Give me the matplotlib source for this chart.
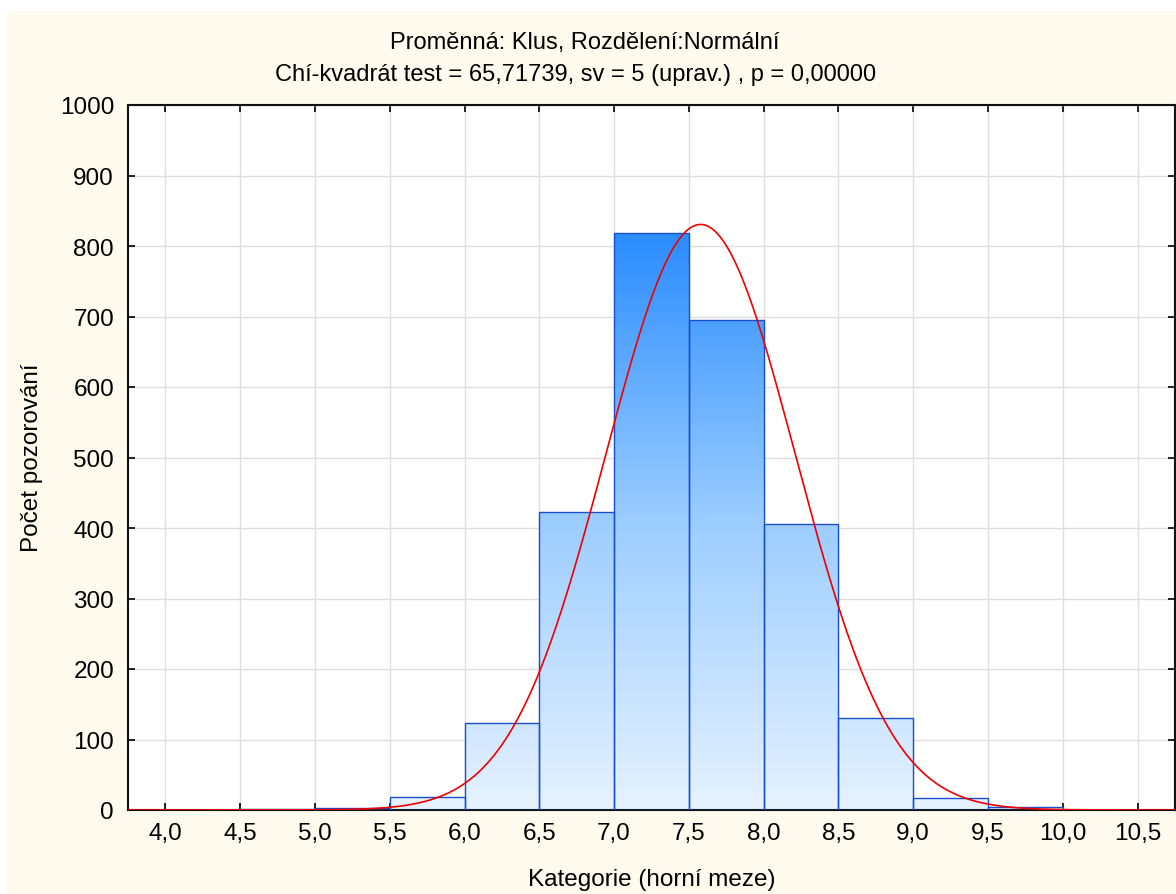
import numpy as np
import matplotlib
matplotlib.use("Agg")
import matplotlib.pyplot as plt
from matplotlib.patches import Rectangle
from matplotlib.colors import LinearSegmentedColormap

# ---- data ----
bin_lefts = [4.0, 4.5, 5.0, 5.5, 6.0, 6.5, 7.0, 7.5, 8.0, 8.5, 9.0, 9.5, 10.0]
counts    = [0,   1,   3,   18,  123, 423, 819, 695, 406, 131, 17,  4,   0]
bin_width = 0.5
fit_mean = 7.578
fit_sd = 0.634
n_total = sum(counts)
xtick_vals = [4.0, 4.5, 5.0, 5.5, 6.0, 6.5, 7.0, 7.5, 8.0, 8.5, 9.0, 9.5, 10.0, 10.5]
xtick_labels = ["4,0", "4,5", "5,0", "5,5", "6,0", "6,5", "7,0", "7,5", "8,0", "8,5", "9,0", "9,5", "10,0", "10,5"]
ytick_vals = [0, 100, 200, 300, 400, 500, 600, 700, 800, 900, 1000]
title1 = "Proměnná: Klus, Rozdělení:Normální"
title2 = "Chí-kvadrát test = 65,71739, sv = 5 (uprav.) , p = 0,00000"
xlabel = "Kategorie (horní meze)"
ylabel = "Počet pozorování"

plt.rcParams['font.family'] = ['Liberation Sans', 'DejaVu Sans']

W, H = 1176, 895
fig = plt.figure(figsize=(W / 100, H / 100), dpi=100, facecolor='white')
# cream panel
fig.patches.append(Rectangle((7 / W, 0), 1 - 7 / W, 1 - 12 / H, transform=fig.transFigure,
                             facecolor='#fffaee', edgecolor='none', zorder=-10))

ax = fig.add_axes([128 / W, 1 - 811 / H, (1175 - 128) / W, (811 - 106) / H])
ax.set_facecolor('white')
ax.set_xlim(3.75, 10.75)
ax.set_ylim(0, 1000)

ax.set_xticks(xtick_vals)
ax.set_xticklabels(xtick_labels)
ax.set_yticks(ytick_vals)
ax.grid(True, color='#dedede', linewidth=1.0, zorder=0)
ax.set_axisbelow(True)
ax.tick_params(direction='in', length=5, width=1.2, labelsize=17.5, top=True, right=True,
               color='black', colors='black')
ax.tick_params(axis='x', pad=9)
ax.tick_params(axis='y', pad=10)
for s in ax.spines.values():
    s.set_linewidth(1.5)
    s.set_color('#111111')

# gradient bars
cmap = LinearSegmentedColormap.from_list('g', ['#e6f2ff', '#9ccdff', '#2a8cff'])
gmax = max(counts)
grad = np.linspace(0, 1, 256).reshape(-1, 1)
for left, c in zip(bin_lefts, counts):
    if c <= 0:
        continue
    rect = Rectangle((left, 0), bin_width, c, facecolor='none', edgecolor='#1a4fcc',
                     linewidth=1.0, zorder=3)
    ax.add_patch(rect)
    im = ax.imshow(grad, extent=[left, left + bin_width, 0, gmax], origin='lower',
                   cmap=cmap, aspect='auto', zorder=2, interpolation='bilinear')
    clip = Rectangle((left, 0), bin_width, c, transform=ax.transData)
    im.set_clip_path(clip)
ax.set_xlim(3.75, 10.75)
ax.set_ylim(0, 1000)

# fitted normal curve
xs = np.linspace(3.75, 10.75, 800)
ys = n_total * bin_width / (fit_sd * np.sqrt(2 * np.pi)) * np.exp(-0.5 * ((xs - fit_mean) / fit_sd) ** 2)
ax.plot(xs, ys, color='#f00000', linewidth=1.2, zorder=4)

cx = (128 + 1175) / 2 / W
fig.text(585 / W, 1 - 43 / H, title1, ha='center', va='center', fontsize=17)
fig.text(576 / W, 1 - 75 / H, title2, ha='center', va='center', fontsize=17)
fig.text(cx, 1 - 880 / H, xlabel, ha='center', va='center', fontsize=17.5)
fig.text(32 / W, 1 - 458 / H, ylabel, ha='center', va='center', fontsize=17.5, rotation=90)

fig.savefig('out.png', dpi=100, facecolor=fig.get_facecolor())
